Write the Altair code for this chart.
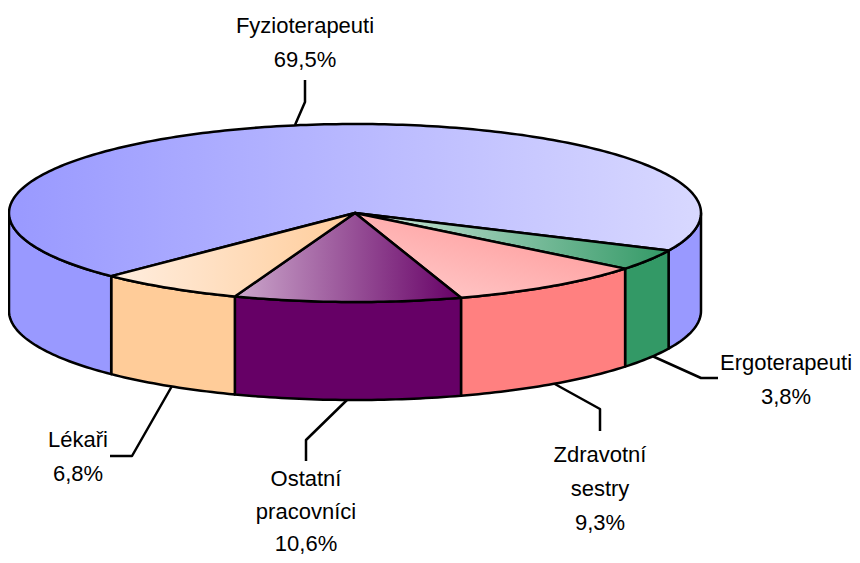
import math
import altair as alt

# Values
names = ["Ergoterapeuti", "Zdravotní sestry", "Ostatní pracovníci", "Lékaři", "Fyzioterapeuti"]
shares = [3.8, 9.3, 10.6, 6.8, 69.5]
side_colors = ["#339966", "#FF8080", "#660066", "#FFCC99", "#9999FF"]
top_stops = [
    ["#D2E8DE", "#339966"],
    ["#FFCFCF", "#FF9090"],
    ["#CCA8CC", "#660066"],
    ["#FFEEE0", "#FFCC99"],
    ["#9999FF", "#D8D8FF"],
]
top_dirs = [(0, 0, 1, 0), (0, 1, 1, 0), (0, 0, 1, 0), (0, 0, 1, 0), (0, 0, 1, 0)]

label_lines = ["Fyzioterapeuti", "69,5%", "Ergoterapeuti", "3,8%", "Zdravotní", "sestry", "9,3%",
               "Ostatní", "pracovníci", "10,6%", "Lékaři", "6,8%"]
label_x = [305, 305, 786, 786, 600, 600, 600, 306, 306, 306, 78, 78]
label_y = [33, 67, 370, 404, 462, 496, 530, 486, 519, 551, 447, 481]

leaders = [
    [(305, 80), (305, 102), (295, 125)],
    [(650, 355), (701, 378), (718, 378)],
    [(553, 383), (600, 409), (600, 431)],
    [(348, 399), (306, 440), (306, 461)],
    [(172, 386), (132, 456), (110, 456)],
]

# Pie geometry on the page
CX, CY, RX, RY, DEPTH = 355, 213, 346, 89, 98
START = 25.0
OX = 8
W, H = 844, 547


def rim(a, dy=0):
    r = math.radians(a)
    return [CX + RX * math.cos(r) - OX, CY + RY * math.sin(r) + dy - OX]


def arc(a0, a1, dy=0):
    n = max(2, int(abs(a1 - a0)) + 1)
    return [rim(a0 + (a1 - a0) * i / (n - 1), dy) for i in range(n)]


def feature(kind, coords):
    return {"type": "Feature", "properties": {}, "geometry": {"type": kind, "coordinates": coords}}


def side(a0, a1):
    ring = arc(a0, a1) + arc(a1, a0, DEPTH)
    ring.append(ring[0])
    return feature("Polygon", [ring])


proj = alt.Projection(type="identity", reflectY=False, scale=1, translate=[0, 0])


def shape(feat, **kw):
    return alt.Chart(alt.Data(values=[feat])).mark_geoshape(
        stroke="#000000", strokeWidth=2.5, strokeJoin="round", **kw
    ).project(**proj.to_dict())


# Slice angles from the shares
angles = []
a = START
for s in shares:
    angles.append((a, a + s * 3.6))
    a += s * 3.6

layers = []
for pts in leaders:
    coords = [[x - OX, y - OX] for x, y in pts]
    layers.append(shape(feature("LineString", coords), filled=False))

# Sides: the last slice wraps round the back, only its two front parts show
fa0, fa1 = angles[4]
layers.append(shape(side(0, START), fill=side_colors[4]))
for i in range(4):
    layers.append(shape(side(*angles[i]), fill=side_colors[i]))
layers.append(shape(side(fa0, 180), fill=side_colors[4]))

# Top faces, the big slice first
for i in [4, 0, 1, 2, 3]:
    a0, a1 = angles[i]
    ring = [[CX - OX, CY - OX]] + arc(a0, a1) + [[CX - OX, CY - OX]]
    x1, y1, x2, y2 = top_dirs[i]
    grad = {
        "gradient": "linear", "x1": x1, "y1": y1, "x2": x2, "y2": y2,
        "stops": [{"offset": 0, "color": top_stops[i][0]}, {"offset": 1, "color": top_stops[i][1]}],
    }
    layers.append(shape(feature("Polygon", [ring]), fill=grad))

text_rows = [{"t": t, "x": x - OX, "y": y - OX} for t, x, y in zip(label_lines, label_x, label_y)]
text = alt.Chart(alt.Data(values=text_rows)).mark_text(
    font="Liberation Sans", fontSize=22, color="#000000", align="center", baseline="alphabetic"
).encode(
    x=alt.X("x:Q", scale=alt.Scale(domain=[0, W]), axis=None),
    y=alt.Y("y:Q", scale=alt.Scale(domain=[H, 0]), axis=None),
    text="t:N",
)
layers.append(text)

chart = alt.layer(*layers).properties(
    width=W, height=H, padding=0, autosize=alt.AutoSizeParams(type="none"), background="#FFFFFF"
).configure_view(stroke=None)

chart.save("out.html", embed_options={"renderer": "svg", "actions": False})
